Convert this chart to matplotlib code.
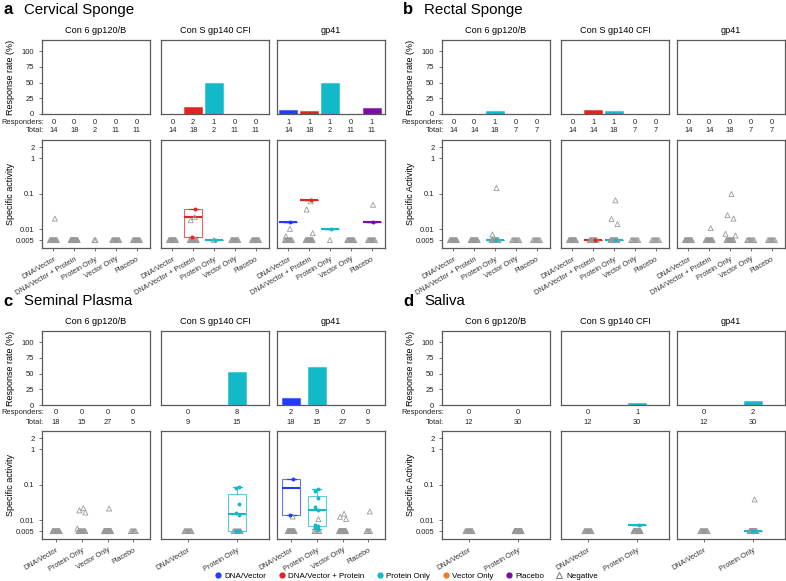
import numpy as np
import matplotlib
matplotlib.use("Agg")
import matplotlib.pyplot as plt
from matplotlib.lines import Line2D

plt.rcParams["font.family"] = ["Liberation Sans", "DejaVu Sans"]
plt.rcParams["font.size"] = 6

FIG_W, FIG_H = 786, 581

# ------------------------------------------------------------
# data
# ------------------------------------------------------------
ANTIGENS = ["Con 6 gp120/B", "Con S gp140 CFI", "gp41"]
FLOOR = 0.005  # negatives sit at the detection floor

AB_GROUPS = ["DNA/Vector", "DNA/Vector + Protein", "Protein Only", "Vector Only", "Placebo"]
C_GROUPS = ["DNA/Vector", "Protein Only", "Vector Only", "Placebo"]
DC_GROUPS = ["DNA/Vector", "Protein Only"]

# a  Cervical Sponge
A_TOTAL = [[14, 18, 2, 11, 11], [14, 18, 2, 11, 11], [14, 18, 2, 11, 11]]
A_RESP = [[0, 0, 0, 0, 0], [0, 2, 1, 0, 0], [1, 1, 1, 0, 1]]
A_POS = [
    [[], [], [], [], []],
    [[], [0.037, 0.006], [0.005], [], []],
    [[0.016], [0.066], [0.010], [], [0.016]],
]
A_NEG = [
    [[0.020], [], [], [], []],
    [[], [0.022, 0.018], [], [], []],
    [[0.0103, 0.0064], [0.061, 0.036, 0.0078], [], [], [0.049]],
]

# b  Rectal Sponge
B_TOTAL = [[14, 14, 18, 7, 7], [14, 14, 18, 7, 7], [14, 14, 18, 7, 7]]
B_RESP = [[0, 0, 1, 0, 0], [0, 1, 1, 0, 0], [0, 0, 0, 0, 0]]
B_POS = [
    [[], [], [0.005], [], []],
    [[], [0.005], [0.005], [], []],
    [[], [], [], [], []],
]
B_NEG = [
    [[], [], [0.145, 0.0072], [], []],
    [[], [], [0.065, 0.0196, 0.014], [], []],
    [[], [0.0108], [0.098, 0.025, 0.020, 0.0075, 0.0067], [], []],
]

# c  Seminal Plasma
C_GROUP_SETS = [C_GROUPS, DC_GROUPS, C_GROUPS]
C_TOTAL = [[18, 15, 27, 5], [9, 15], [18, 15, 27, 5]]
C_RESP = [[0, 0, 0, 0], [0, 8], [2, 9, 0, 0]]
C_POS = [
    [[], [], [], []],
    [[], [0.088, 0.081, 0.029, 0.016, 0.0143, 0.005, 0.005, 0.005]],
    [[0.144, 0.0143], [0.075, 0.066, 0.042, 0.024, 0.020, 0.0073, 0.0069, 0.0065, 0.0056], [], []],
]
C_NEG = [
    [[], [0.022, 0.019, 0.0166, 0.0059], [0.0215], []],
    [[], []],
    [[0.0128], [0.0108], [0.0153, 0.0126, 0.011], [0.0177]],
]

# d  Saliva
D_TOTAL = [[12, 30], [12, 30], [12, 30]]
D_RESP = [[0, 0], [0, 1], [0, 2]]
D_POS = [[[], []], [[], [0.0076]], [[], [0.005, 0.005]]]
D_NEG = [[[], []], [[], []], [[], [0.0386]]]

GROUP_COLORS = {
    "DNA/Vector": "#1f3cff",
    "DNA/Vector + Protein": "#e02424",
    "Protein Only": "#12b9c9",
    "Vector Only": "#f47b2e",
    "Placebo": "#7b0f9f",
}
NEG_COLOR = "#999999"
FRAME = "#5a5a5a"

PANELS = [
    ("a", "Cervical Sponge", 0, 0, [AB_GROUPS] * 3, A_TOTAL, A_RESP, A_POS, A_NEG, "Specific activity"),
    ("b", "Rectal Sponge", 400, 0, [AB_GROUPS] * 3, B_TOTAL, B_RESP, B_POS, B_NEG, "Specific Activity"),
    ("c", "Seminal Plasma", 0, 291, C_GROUP_SETS, C_TOTAL, C_RESP, C_POS, C_NEG, "Specific activity"),
    ("d", "Saliva", 400, 291, [DC_GROUPS] * 3, D_TOTAL, D_RESP, D_POS, D_NEG, "Specific Activity"),
]

COL_LEFT = [42, 161, 277]
COL_W = 108
TOP_Y, TOP_H = 40, 74
BOT_Y, BOT_H = 140, 108


def add_ax(fig, x, y, w, h):
    return fig.add_axes([x / FIG_W, 1 - (y + h) / FIG_H, w / FIG_W, h / FIG_H])


def style_frame(ax):
    for sp in ax.spines.values():
        sp.set_color(FRAME)
        sp.set_linewidth(0.9)
    ax.tick_params(colors=FRAME, labelcolor="#222222", length=2, width=0.6, labelsize=5.5)


def box_stats(vals):
    v = np.asarray(vals, dtype=float)
    q1, med, q3 = np.percentile(v, [25, 50, 75], method="hazen")
    iqr = q3 - q1
    lo = v[v >= q1 - 1.5 * iqr].min()
    hi = v[v <= q3 + 1.5 * iqr].max()
    return dict(med=med, q1=q1, q3=q3, whislo=lo, whishi=hi, fliers=[])


def main():
    fig = plt.figure(figsize=(FIG_W / 100, FIG_H / 100), dpi=100)

    for letter, title, ox, oy, group_sets, totals, resps, pos, neg, bot_label in PANELS:
        fig.text((ox + 3) / FIG_W, 1 - (oy + 10) / FIG_H, letter, fontsize=12,
                 fontweight="bold", va="center", ha="left")
        fig.text((ox + 24) / FIG_W, 1 - (oy + 10) / FIG_H, title, fontsize=10.8,
                 va="center", ha="left")

        for k, antigen in enumerate(ANTIGENS):
            groups = group_sets[k]
            n = len(groups)
            xs = np.arange(n)
            xlim = (-0.55, n - 0.35)
            ppu = COL_W / (xlim[1] - xlim[0])  # pixels per x unit
            bw = 18 / ppu

            # ---------- response rate bars ----------
            ax_t = add_ax(fig, ox + COL_LEFT[k], oy + TOP_Y, COL_W, TOP_H)
            style_frame(ax_t)
            for i, g in enumerate(groups):
                r, t = resps[k][i], totals[k][i]
                if r > 0:
                    ax_t.bar(xs[i], 100.0 * r / t, width=bw, color=GROUP_COLORS[g],
                             edgecolor=GROUP_COLORS[g] + "80", linewidth=0.8)
                for val, dy in ((r, -8), (t, -17)):
                    ax_t.annotate(str(val), xy=(xs[i], 0), xycoords=("data", "axes fraction"),
                                  xytext=(0, dy), textcoords="offset pixels",
                                  ha="center", va="center", fontsize=5.4, color="#222222")
            ax_t.set_xlim(*xlim)
            ax_t.set_ylim(0, 118)
            ax_t.set_xticks([])
            ax_t.set_yticks([0, 25, 50, 75, 100])
            ax_t.set_title(antigen, fontsize=6.6, pad=5)

            # ---------- specific activity ----------
            ax_b = add_ax(fig, ox + COL_LEFT[k], oy + BOT_Y, COL_W, BOT_H)
            style_frame(ax_b)
            ax_b.set_yscale("log")
            for i, g in enumerate(groups):
                c = GROUP_COLORS[g]
                extra = neg[k][i]
                n_floor = totals[k][i] - resps[k][i] - len(extra)
                if n_floor > 0:
                    half = min(3.5, 0.6 * (n_floor - 1)) / ppu
                    offs = np.linspace(-half, half, n_floor) if n_floor > 1 else np.zeros(1)
                    ax_b.scatter(xs[i] + offs, np.full(n_floor, FLOOR), marker="^", s=13,
                                 facecolors="none", edgecolors=NEG_COLOR, linewidths=0.6, zorder=3)
                if extra:
                    offs = np.array([(-1) ** j * (1.5 + j) for j in range(len(extra))]) / ppu
                    ax_b.scatter(xs[i] + offs, extra, marker="^", s=13, facecolors="none",
                                 edgecolors=NEG_COLOR, linewidths=0.6, zorder=3)
                vals = pos[k][i]
                if vals:
                    st = box_stats(vals)
                    ax_b.bxp([st], positions=[xs[i]], widths=bw, capwidths=bw * 0.5,
                             showfliers=False, patch_artist=False, manage_ticks=False,
                             boxprops=dict(color=c, alpha=0.7, linewidth=0.8),
                             whiskerprops=dict(color=c, alpha=0.7, linewidth=0.8),
                             capprops=dict(color=c, alpha=0.9, linewidth=0.9),
                             medianprops=dict(color=c, linewidth=1.5))
                    offs = np.array([(-1) ** j * 1.5 for j in range(len(vals))]) / ppu
                    ax_b.scatter(xs[i] + offs, vals, s=8, color=c, zorder=4, linewidths=0)
            ax_b.set_xlim(*xlim)
            ax_b.set_ylim(0.003, 3.2)
            ax_b.set_yticks([0.005, 0.01, 0.1, 1, 2])
            ax_b.set_yticklabels(["0.005", "0.01", "0.1", "1", "2"])
            ax_b.minorticks_off()
            ax_b.set_xticks(xs)
            ax_b.set_xticklabels(groups, rotation=30, ha="right", rotation_mode="anchor",
                                 fontsize=5.2, color="#333333")

            if k == 0:
                ax_t.set_ylabel("Response rate (%)", fontsize=6.5)
                ax_t.yaxis.set_label_coords(-0.25, 0.5)
                ax_b.set_ylabel(bot_label, fontsize=6.5)
                ax_b.yaxis.set_label_coords(-0.25, 0.5)
                ax_t.annotate("Responders:", xy=(0, 0), xycoords="axes fraction",
                              xytext=(2, -8), textcoords="offset pixels",
                              ha="right", va="center", fontsize=5.4, color="#222222")
                ax_t.annotate("Total:", xy=(0, 0), xycoords="axes fraction",
                              xytext=(2, -17), textcoords="offset pixels",
                              ha="right", va="center", fontsize=5.4, color="#222222")
            else:
                ax_t.tick_params(axis="y", left=False, labelleft=False)
                ax_b.tick_params(axis="y", left=False, labelleft=False)

    # legend
    handles = [Line2D([], [], marker="o", linestyle="none", markersize=4.5,
                      markerfacecolor=GROUP_COLORS[g], markeredgecolor="none")
               for g in AB_GROUPS]
    handles.append(Line2D([], [], marker="^", linestyle="none", markersize=5,
                          markerfacecolor="none", markeredgecolor="#777777", markeredgewidth=0.7))
    labels = AB_GROUPS + ["Negative"]
    fig.legend(handles, labels, loc="center", bbox_to_anchor=(406 / FIG_W, 1 - 576 / FIG_H),
               ncol=6, frameon=False, fontsize=5.8, handletextpad=0.3, columnspacing=1.4,
               handlelength=1.0)

    fig.savefig("out.png", dpi=100)
    plt.close(fig)


if __name__ == "__main__":
    main()
